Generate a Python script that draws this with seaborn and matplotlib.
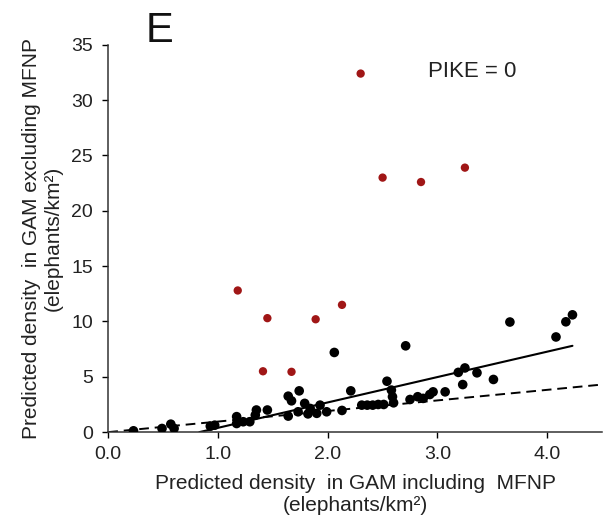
import numpy as np
import pandas as pd
import matplotlib
matplotlib.use("Agg")
import matplotlib.pyplot as plt
import seaborn as sns

# points (x = GAM incl. MFNP, y = GAM excl. MFNP)
black_x = [0.23, 0.49, 0.57, 0.60, 0.93, 0.97,
           1.17, 1.17, 1.23, 1.29, 1.34, 1.35, 1.45,
           1.64, 1.64, 1.67, 1.73, 1.74, 1.79, 1.82, 1.84, 1.90, 1.93, 1.99,
           2.06, 2.13, 2.21, 2.31, 2.36, 2.41, 2.46, 2.51,
           2.54, 2.58, 2.59, 2.60, 2.71, 2.75, 2.82, 2.87, 2.93, 2.96, 3.07,
           3.19, 3.23, 3.25, 3.36, 3.51, 3.66, 4.08, 4.17, 4.23]
black_y = [0.12, 0.33, 0.72, 0.33, 0.54, 0.63,
           1.40, 0.78, 0.94, 0.94, 1.54, 2.00, 2.00,
           3.25, 1.45, 2.83, 1.84, 3.73, 2.60, 1.65, 2.14, 1.70, 2.44, 1.84,
           7.20, 1.96, 3.73, 2.44, 2.44, 2.44, 2.50, 2.50,
           4.60, 3.80, 3.20, 2.65, 7.80, 2.95, 3.20, 3.05, 3.40, 3.64, 3.64,
           5.40, 4.30, 5.80, 5.36, 4.76, 9.95, 8.60, 9.97, 10.60]

red_x = [2.30, 2.50, 2.85, 3.25, 1.18, 1.45, 1.89, 2.13, 1.41, 1.67]
red_y = [32.4, 23.0, 22.6, 23.9, 12.8, 10.3, 10.2, 11.5, 5.5, 5.45]

# fitted line and 1:1 reference line
fit_x = [0.83, 4.23]
fit_y = [0.0, 7.8]
ref_x = [0.0, 4.5]
ref_y = [0.0, 4.3]

sns.set_style("ticks")
plt.rcParams['font.family'] = ['Liberation Sans', 'DejaVu Sans']

fig = plt.figure(figsize=(6.15, 5.27), dpi=100)
ax = fig.add_axes([0.176, 0.180, 0.803, 0.735])

df_black = pd.DataFrame({'x': black_x, 'y': black_y})
df_red = pd.DataFrame({'x': red_x, 'y': red_y})

sns.lineplot(x=ref_x, y=ref_y, ax=ax, color='black', lw=1.4, linestyle=(0, (5, 3)))
sns.lineplot(x=fit_x, y=fit_y, ax=ax, color='black', lw=1.5)
sns.scatterplot(data=df_black, x='x', y='y', ax=ax, color='black', s=48,
                edgecolor='none', zorder=3)
sns.scatterplot(data=df_red, x='x', y='y', ax=ax, color='#a01616', s=36,
                edgecolor='none', zorder=3)

ax.set_xlim(0, 4.5)
ax.set_ylim(0, 35)
ax.set_xticks([0, 1, 2, 3, 4])
ax.set_xticklabels(['0.0', '1.0', '2.0', '3.0', '4.0'])
ax.set_yticks(range(0, 36, 5))
ax.tick_params(labelsize=14, length=4, width=1, color='black', labelcolor='#222222')
ax.tick_params(axis='x', pad=6)
ax.tick_params(axis='y', pad=7)
sns.despine(ax=ax)
for s in ['left', 'bottom']:
    ax.spines[s].set_linewidth(1.1)
    ax.spines[s].set_color('#333333')

ax.set_xlabel("Predicted density  in GAM including  MFNP\n(elephants/km²)",
              fontsize=15, color='#222222', labelpad=8)
ax.set_ylabel("Predicted density  in GAM excluding MFNP\n(elephants/km²)",
              fontsize=15, color='#222222', labelpad=6)

ax.text(2.91, 32.1, "PIKE = 0", fontsize=16, color='#222222', va='baseline')
fig.text(0.236, 0.920, "E", fontsize=30, color='#111111', va='baseline')

fig.savefig("out.png", dpi=100)
